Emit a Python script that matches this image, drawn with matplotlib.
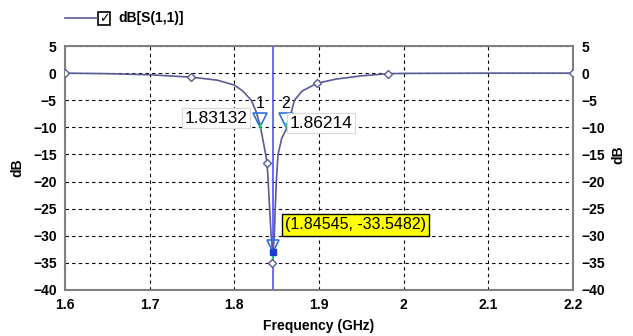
import matplotlib
matplotlib.use("Agg")
import matplotlib.pyplot as plt

plt.rcParams['font.family'] = ['Liberation Sans', 'DejaVu Sans']
plt.rcParams['font.weight'] = 'bold'

# curve data (GHz, dB)
freq = [1.60, 1.65, 1.70, 1.75, 1.78, 1.80, 1.81, 1.820, 1.826, 1.831, 1.837, 1.8386,
        1.8400, 1.8417, 1.8435, 1.8455, 1.8472, 1.8483, 1.8496, 1.8516, 1.856,
        1.8626, 1.871, 1.880, 1.898, 1.92, 1.95, 1.982, 2.0, 2.1, 2.2]
s11_db = [0.0, -0.1, -0.3, -0.75, -1.3, -2.2, -3.3, -5.0, -7.2, -10.0, -15.0, -16.5,
          -20.0, -25.0, -30.0, -33.5, -30.0, -25.0, -20.0, -15.0, -12.0,
          -10.0, -5.0, -3.3, -1.85, -1.1, -0.5, -0.1, -0.05, 0.0, 0.0]

# sweep points shown with diamonds
pt_freq = [1.60, 1.749, 1.8386, 1.8445, 1.898, 1.982, 2.20]
pt_db = [0.0, -0.75, -16.5, -35.0, -1.85, -0.1, 0.0]

# markers
mk_freq = [1.8302, 1.8606]
mk_db = [-10.0, -10.0]
mk_names = ["1", "2"]
mk_labels = ["1.83132", "1.86214"]
min_freq = 1.84545
min_db = -33.5482

xticks = [1.6, 1.7, 1.8, 1.9, 2.0, 2.1, 2.2]
xticklabels = ["1.6", "1.7", "1.8", "1.9", "2", "2.1", "2.2"]
yticks = [5, 0, -5, -10, -15, -20, -25, -30, -35, -40]

line_col = "#5a5a96"

fig = plt.figure(figsize=(6.33, 3.36), dpi=100)
ax = fig.add_axes([0.1027, 0.137, 0.8025, 0.726])

ax.plot(freq, s11_db, color=line_col, lw=1.2, zorder=3)
ax.plot(pt_freq, pt_db, linestyle='none', marker='D', ms=4, mfc='white',
        mec=line_col, mew=1.0, zorder=4)
# green segment to lowest sweep point
ax.plot([min_freq, pt_freq[3]], [min_db, pt_db[3]], color='#30d070', lw=1, zorder=3)

# vertical marker line
ax.axvline(min_freq, color='#5050ff', lw=1.2, zorder=2)

# triangle markers
for f, d, n in zip(mk_freq, mk_db, mk_names):
    ax.plot([f], [d + 1.3], marker='v', ms=10, mfc='none', mec='#3070e0', mew=1.2,
            linestyle='none', zorder=5)
    ax.plot([f + 0.0008, f + 0.0003], [d + 0.8, d - 0.2], color='#30d070', lw=1, zorder=5)
    ax.text(f, d + 3.0, n, ha='center', va='bottom', fontsize=11.5, color='black',
            fontweight='normal', zorder=6)
ax.plot([min_freq], [min_db + 1.6], marker='v', ms=9, mfc='none', mec='#3070e0',
        mew=1.2, linestyle='none', zorder=5)
ax.plot([min_freq], [min_db + 0.5], marker='s', ms=4, color='#1a3ad0', zorder=5)

ax.text(1.8155, -8.3, mk_labels[0], ha='right', va='center', fontsize=12.5,
        fontweight='normal',
        bbox=dict(boxstyle='square,pad=0.15', fc='white', ec='#d8d8d8', lw=0.8), zorder=6)
ax.text(1.8655, -9.2, mk_labels[1], ha='left', va='center', fontsize=12.5,
        fontweight='normal',
        bbox=dict(boxstyle='square,pad=0.15', fc='white', ec='#d8d8d8', lw=0.8), zorder=6)

ax.text(1.8595, -28.0, f"({min_freq:.5f}, {min_db:.4f})", ha='left', va='center',
        fontsize=11.5, color='black', fontweight='normal',
        bbox=dict(boxstyle='square,pad=0.2', fc='#ffff00', ec='black', lw=1.0), zorder=7)

ax.set_xlim(1.6, 2.2)
ax.set_ylim(-40, 5)
ax.set_xticks(xticks)
ax.set_xticklabels(xticklabels)
ax.set_yticks(yticks)
ax.grid(True, color='black', linestyle=(0, (3, 3)), lw=0.8)
ax.tick_params(length=0, labelsize=10, pad=6)
ax.tick_params(axis='y', labelright=True, right=False)
for t in ax.xaxis.get_major_ticks() + ax.yaxis.get_major_ticks():
    t.label1.set_fontweight('bold')
    t.label2.set_fontweight('bold')
for sp in ax.spines.values():
    sp.set_color('#808080')
    sp.set_linewidth(1.5)

ax.set_xlabel("Frequency (GHz)", fontsize=10, fontweight='bold', labelpad=5)
fig.text(17 / 633, 0.5, "dB", rotation=90, ha='center', va='center', fontsize=10,
         fontweight='bold')
fig.text(618 / 633, 0.54, "dB", rotation=90, ha='center', va='center', fontsize=10,
         fontweight='bold')

# legend at top
fig.add_artist(plt.Line2D([65 / 633, 97 / 633], [1 - 18 / 336, 1 - 18 / 336],
                          color=line_col, lw=1.2))
fig.add_artist(plt.Rectangle((98 / 633, 1 - 25 / 336), 12 / 633, 13 / 336,
                             fill=False, ec='black', lw=1.2))
fig.text(104 / 633, 1 - 18.5 / 336, "\u2713", ha='center', va='center', fontsize=9,
         family=['DejaVu Sans'], fontweight='bold')
fig.text(118 / 633, 1 - 18 / 336, "dB[S(1,1)]", ha='left', va='center', fontsize=10,
         fontweight='bold')

fig.savefig("out.png", dpi=100, facecolor='white')
